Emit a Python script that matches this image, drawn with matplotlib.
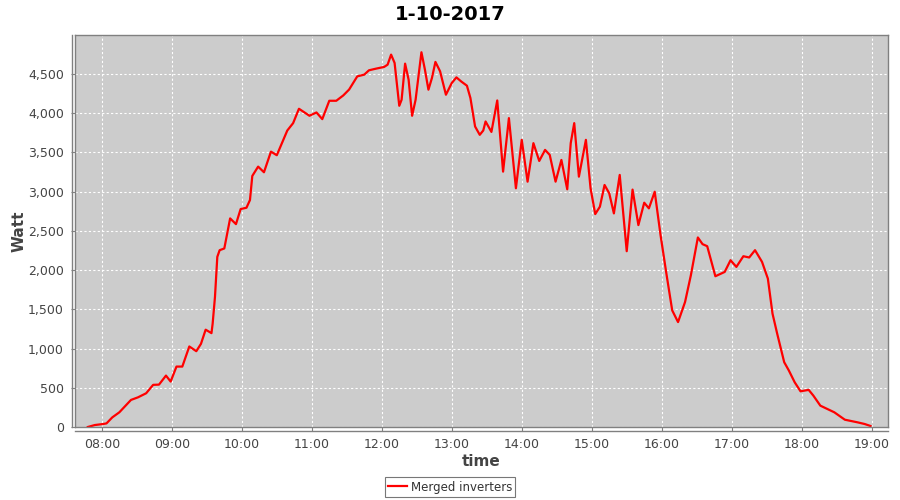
import matplotlib
matplotlib.use("Agg")
import matplotlib.pyplot as plt
import matplotlib.dates as mdates
from matplotlib.lines import Line2D
from matplotlib.ticker import FuncFormatter, FixedLocator
import pandas as pd

# Readings of the merged inverters on 1-10-2017 (time, watt)
times = [
    "07:48", "07:54", "08:01", "08:04", "08:09", "08:15", "08:19", "08:25", "08:31", "08:38",
    "08:44", "08:49", "08:55", "08:59", "09:04", "09:09", "09:15", "09:21", "09:25", "09:29",
    "09:34", "09:35", "09:37", "09:39", "09:41", "09:45", "09:50", "09:55", "09:59", "10:04",
    "10:07", "10:09", "10:14", "10:19", "10:25", "10:30", "10:35", "10:39", "10:44", "10:49",
    "10:58", "11:04", "11:09", "11:15", "11:21", "11:27", "11:32", "11:39", "11:45", "11:49",
    "11:55", "12:02", "12:05", "12:08", "12:11", "12:15", "12:17", "12:20", "12:23", "12:26",
    "12:29", "12:34", "12:37", "12:40", "12:43", "12:46", "12:50", "12:55", "13:00", "13:04",
    "13:08", "13:13", "13:16", "13:20", "13:24", "13:27", "13:29", "13:34", "13:39", "13:44",
    "13:49", "13:55", "14:00", "14:05", "14:10", "14:15", "14:20", "14:24", "14:29", "14:34",
    "14:39", "14:42", "14:45", "14:49", "14:55", "14:59", "15:03", "15:07", "15:11", "15:15",
    "15:19", "15:24", "15:30", "15:35", "15:40", "15:45", "15:49", "15:54", "15:59", "16:04",
    "16:09", "16:14", "16:20", "16:25", "16:31", "16:35", "16:39", "16:46", "16:51", "16:54",
    "16:59", "17:04", "17:10", "17:15", "17:20", "17:26", "17:31", "17:35", "17:39", "17:45",
    "17:49", "17:54", "17:59", "18:06", "18:10", "18:16", "18:28", "18:37", "18:48", "18:54",
    "18:59",
]
watts = [
    0, 25, 38, 46, 123, 187, 250, 345, 378, 430,
    537, 540, 655, 579, 770, 770, 1026, 966, 1060, 1240,
    1196, 1316, 1657, 2168, 2253, 2275, 2658, 2585, 2777, 2794,
    2892, 3199, 3318, 3246, 3509, 3463, 3637, 3778, 3872, 4055,
    3966, 4008, 3923, 4157, 4157, 4225, 4300, 4468, 4490, 4545,
    4566, 4588, 4617, 4745, 4639, 4093, 4170, 4630, 4426, 3966,
    4170, 4775, 4553, 4298, 4447, 4652, 4532, 4234, 4383, 4455,
    4404, 4349, 4192, 3829, 3723, 3778, 3893, 3760, 4161, 3254,
    3936, 3042, 3659, 3126, 3617, 3390, 3531, 3467, 3126, 3403,
    3029, 3617, 3872, 3190, 3659, 3042, 2713, 2807, 3084, 2978,
    2722, 3212, 2240, 3025, 2573, 2858, 2786, 2998, 2445, 1955,
    1486, 1337, 1592, 1934, 2415, 2330, 2304, 1921, 1955, 1976,
    2125, 2040, 2176, 2160, 2253, 2104, 1891, 1444, 1189, 826,
    720, 570, 455, 473, 400, 272, 187, 93, 59, 38,
    13,
]
y_ticks = [0, 500, 1000, 1500, 2000, 2500, 3000, 3500, 4000, 4500]

day = "2017-10-01 "
t = pd.to_datetime([day + s for s in times])

fig = plt.figure(figsize=(9, 5), dpi=100)
fig.patch.set_facecolor("white")
ax = fig.add_axes([75 / 900, 1 - 427 / 500, 813 / 900, 392 / 500])
ax.set_facecolor("#cccccc")

ax.plot(t, watts, color="#ff0000", linewidth=1.6, label="Merged inverters",
        solid_joinstyle="round")

ax.set_xlim(pd.Timestamp(day + "07:37"), pd.Timestamp(day + "19:14"))
ax.set_ylim(0, 4995)
ax.yaxis.set_major_locator(FixedLocator(y_ticks))
ax.yaxis.set_major_formatter(FuncFormatter(lambda v, p: f"{int(v):,}"))
ax.xaxis.set_major_locator(mdates.HourLocator())
ax.xaxis.set_major_formatter(mdates.DateFormatter("%H:%M"))

ax.grid(True, color="white", linestyle=(0, (2, 2)), linewidth=0.8)
ax.set_axisbelow(True)
for sp in ax.spines.values():
    sp.set_color("#808080")
    sp.set_linewidth(1.0)

ax.tick_params(axis="both", colors="#808080", labelcolor="#444444",
               labelsize=9, length=3, width=0.8, direction="out", pad=5)

ax.set_xlabel("time", fontsize=11, fontweight="bold", color="#444444", labelpad=2)
ax.set_ylabel("Watt", fontsize=11, fontweight="bold", color="#444444", labelpad=1)
fig.suptitle("1-10-2017", x=0.5, y=0.99, fontsize=14, fontweight="bold")

# separate axis lines, a few pixels off the plot border
fig.add_artist(Line2D([71.5 / 900, 71.5 / 900], [1 - 427 / 500, 1 - 35 / 500],
                      color="#808080", linewidth=1.0))
fig.add_artist(Line2D([75 / 900, 888 / 900], [1 - 430.5 / 500, 1 - 430.5 / 500],
                      color="#808080", linewidth=1.0))

leg = fig.legend(loc="center", bbox_to_anchor=(450 / 900, 1 - 487 / 500),
                 fontsize=8.5, frameon=True, fancybox=False, handlelength=1.6,
                 borderpad=0.3, handletextpad=0.3, borderaxespad=0)
leg.get_frame().set_edgecolor("#555555")
leg.get_frame().set_linewidth(0.8)
for txt in leg.get_texts():
    txt.set_color("#333333")

fig.savefig("out.png", dpi=100)
